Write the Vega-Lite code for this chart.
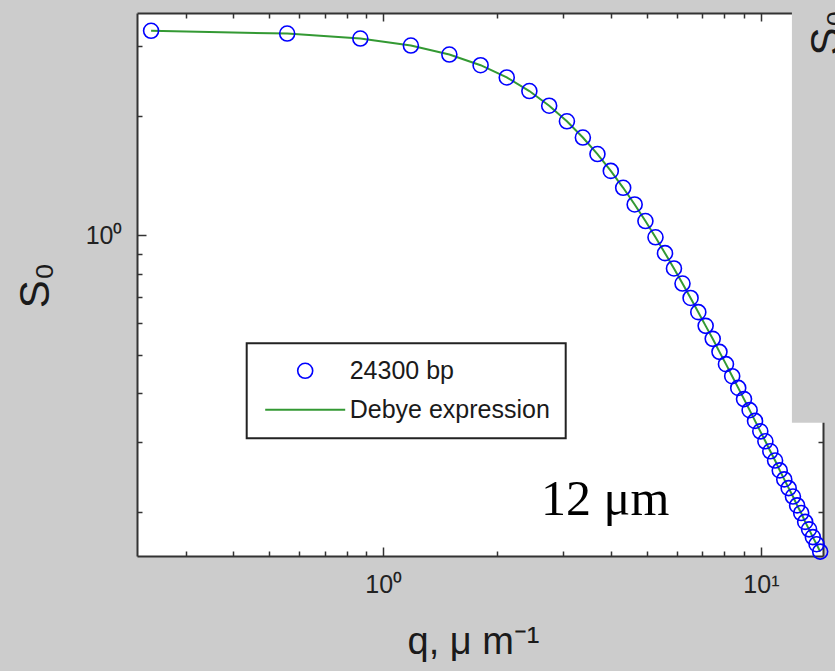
{
  "$schema": "https://vega.github.io/schema/vega-lite/v6.json",
  "width": 686,
  "height": 543,
  "autosize": "none",
  "padding": {"left": 137, "top": 13, "right": 12, "bottom": 115},
  "background": "#cccccc",
  "config": {
    "view": {"fill": "white", "stroke": null},
    "font": "Liberation Sans",
    "axis": {
      "domainColor": "#333333",
      "domainWidth": 2,
      "tickColor": "#333333",
      "tickWidth": 1.5,
      "labelFont": "Liberation Sans",
      "labelFontSize": 25,
      "labelColor": "#222222",
      "labelOverlap": false,
      "labelFlush": false,
      "grid": false,
      "titleFont": "Liberation Sans",
      "titleFontWeight": "normal",
      "titleColor": "#1a1a1a"
    }
  },
  "datasets": {
    "s": [
      {"q": 0.243, "S": 3.287}, {"q": 0.557, "S": 3.234}, {"q": 0.870, "S": 3.142},
      {"q": 1.184, "S": 3.016}, {"q": 1.497, "S": 2.863}, {"q": 1.811, "S": 2.691},
      {"q": 2.124, "S": 2.506}, {"q": 2.438, "S": 2.315}, {"q": 2.751, "S": 2.126},
      {"q": 3.065, "S": 1.942}, {"q": 3.378, "S": 1.767}, {"q": 3.692, "S": 1.605},
      {"q": 4.005, "S": 1.455}, {"q": 4.319, "S": 1.319}, {"q": 4.632, "S": 1.197},
      {"q": 4.946, "S": 1.087}, {"q": 5.259, "S": 0.989}, {"q": 5.573, "S": 0.902},
      {"q": 5.886, "S": 0.825}, {"q": 6.200, "S": 0.756}, {"q": 6.513, "S": 0.695},
      {"q": 6.827, "S": 0.640}, {"q": 7.140, "S": 0.591}, {"q": 7.454, "S": 0.548},
      {"q": 7.767, "S": 0.508}, {"q": 8.081, "S": 0.473}, {"q": 8.394, "S": 0.441},
      {"q": 8.708, "S": 0.412}, {"q": 9.021, "S": 0.386}, {"q": 9.335, "S": 0.362},
      {"q": 9.648, "S": 0.340}, {"q": 9.962, "S": 0.320}, {"q": 10.275, "S": 0.302},
      {"q": 10.589, "S": 0.285}, {"q": 10.902, "S": 0.270}, {"q": 11.216, "S": 0.255},
      {"q": 11.529, "S": 0.242}, {"q": 11.843, "S": 0.230}, {"q": 12.156, "S": 0.219},
      {"q": 12.470, "S": 0.208}, {"q": 12.783, "S": 0.199}, {"q": 13.097, "S": 0.189},
      {"q": 13.410, "S": 0.181}, {"q": 13.724, "S": 0.173}, {"q": 14.037, "S": 0.166},
      {"q": 14.351, "S": 0.159}
    ],
    "panel": [{"q": 12.08, "q2": 17, "S": 0.3365, "S2": 5}],
    "notes": [
      {"q": 3.87, "S": 0.197, "label": "12 μm"}
    ],
    "side": [
      {"q": 16.2, "S": 3.25, "label": "S₀"}
    ]
  },
  "layer": [
    {
      "data": {"name": "panel"},
      "mark": {"type": "rect", "color": "#cccccc"},
      "encoding": {
        "x": {"field": "q", "type": "quantitative", "scale": {"type": "log", "domain": [0.223, 14.6], "nice": false}, "axis": null},
        "x2": {"field": "q2"},
        "y": {"field": "S", "type": "quantitative", "scale": {"type": "log", "domain": [0.155, 3.645], "nice": false}, "axis": null},
        "y2": {"field": "S2"}
      }
    },
    {
      "data": {"name": "side"},
      "mark": {"type": "text", "font": "Liberation Sans", "fontSize": 42, "angle": 270, "align": "center", "baseline": "alphabetic", "color": "#1a1a1a"},
      "encoding": {
        "x": {"field": "q", "type": "quantitative", "scale": {"type": "log", "domain": [0.223, 14.6], "nice": false}, "axis": null},
        "y": {"field": "S", "type": "quantitative", "scale": {"type": "log", "domain": [0.155, 3.645], "nice": false}, "axis": null},
        "text": {"field": "label"}
      }
    },
    {
      "data": {"name": "s"},
      "mark": {"type": "line", "strokeWidth": 2},
      "encoding": {
        "x": {
          "field": "q", "type": "quantitative",
          "scale": {"type": "log", "domain": [0.223, 14.6], "nice": false},
          "axis": {
            "orient": "bottom",
            "values": [0.3, 0.4, 0.5, 0.6, 0.7, 0.8, 0.9, 1, 2, 3, 4, 5, 6, 7, 8, 9, 10],
            "tickSize": {"condition": {"test": "datum.value == 1 || datum.value == 10", "value": -9}, "value": -5},
            "labelExpr": "datum.value == 1 ? '10⁰' : datum.value == 10 ? '10¹' : ''",
            "labelPadding": 25,
            "title": "q, μ m⁻¹",
            "titleFontSize": 38,
            "titleX": 336,
            "titleY": 97,
            "titleAlign": "center",
            "titleBaseline": "alphabetic"
          }
        },
        "y": {
          "field": "S", "type": "quantitative",
          "scale": {"type": "log", "domain": [0.155, 3.645], "nice": false},
          "axis": {
            "orient": "left",
            "values": [0.2, 0.3, 0.4, 0.5, 0.6, 0.7, 0.8, 0.9, 1, 2, 3],
            "tickSize": {"condition": {"test": "datum.value == 1", "value": -9}, "value": -5},
            "labelExpr": "datum.value == 1 ? '10⁰' : ''",
            "labelPadding": 24,
            "title": "S₀",
            "titleFontSize": 42,
            "titleAngle": 270,
            "titleX": -89,
            "titleY": 272,
            "titleAlign": "center",
            "titleBaseline": "alphabetic"
          }
        },
        "color": {
          "datum": "Debye expression",
          "type": "nominal",
          "scale": {"domain": ["24300 bp", "Debye expression"], "range": ["#0000ff", "#339933"]},
          "legend": {
            "title": null,
            "orient": "none",
            "legendX": 109.7,
            "legendY": 330.3,
            "padding": 15,
            "rowPadding": 13,
            "labelFont": "Liberation Sans",
            "labelFontSize": 25,
            "labelColor": "#1a1a1a",
            "labelLimit": 0,
            "symbolSize": 225,
            "symbolOffset": 31,
            "labelOffset": 32,
            "fillColor": "white",
            "strokeColor": "#222222",
            "encode": {
              "legend": {"update": {"strokeWidth": {"value": 2}}},
              "symbols": {
                "update": {
                  "shape": {"signal": "datum.value === 'Debye expression' ? 'stroke' : 'circle'"},
                  "size": {"signal": "datum.value === 'Debye expression' ? 6400 : 225"},
                  "strokeWidth": {"signal": "datum.value === 'Debye expression' ? 2 : 1.6"},
                  "fill": {"value": "transparent"},
                  "stroke": {"signal": "datum.value === 'Debye expression' ? '#339933' : '#0000ff'"}
                }
              }
            }
          }
        }
      }
    },
    {
      "data": {"name": "s"},
      "mark": {"type": "point", "shape": "circle", "filled": false, "size": 225, "strokeWidth": 1.6, "opacity": 1},
      "encoding": {
        "x": {
          "field": "q", "type": "quantitative",
          "scale": {"type": "log", "domain": [0.223, 14.6], "nice": false},
          "axis": {
            "orient": "top",
            "values": [0.3, 0.4, 0.5, 0.6, 0.7, 0.8, 0.9, 1, 2, 3, 4, 5, 6, 7, 8, 9, 10],
            "tickSize": {"condition": {"test": "datum.value == 1 || datum.value == 10", "value": -8}, "value": -5},
            "labels": false,
            "title": null
          }
        },
        "y": {
          "field": "S", "type": "quantitative",
          "scale": {"type": "log", "domain": [0.155, 3.645], "nice": false},
          "axis": {
            "orient": "right",
            "values": [0.2, 0.3, 0.4, 0.5, 0.6, 0.7, 0.8, 0.9, 1, 2, 3],
            "tickSize": {"condition": {"test": "datum.value == 1", "value": -8}, "value": -5},
            "labels": false,
            "title": null
          }
        },
        "color": {"datum": "24300 bp", "type": "nominal"}
      }
    },
    {
      "data": {"name": "notes"},
      "mark": {"type": "text", "font": "Liberation Serif", "fontSize": 50, "align": "center", "baseline": "alphabetic", "color": "#000000"},
      "encoding": {
        "x": {"field": "q", "type": "quantitative", "scale": {"type": "log", "domain": [0.223, 14.6], "nice": false}, "axis": null},
        "y": {"field": "S", "type": "quantitative", "scale": {"type": "log", "domain": [0.155, 3.645], "nice": false}, "axis": null},
        "text": {"field": "label"}
      }
    }
  ],
  "resolve": {"axis": {"x": "independent", "y": "independent"}}
}
